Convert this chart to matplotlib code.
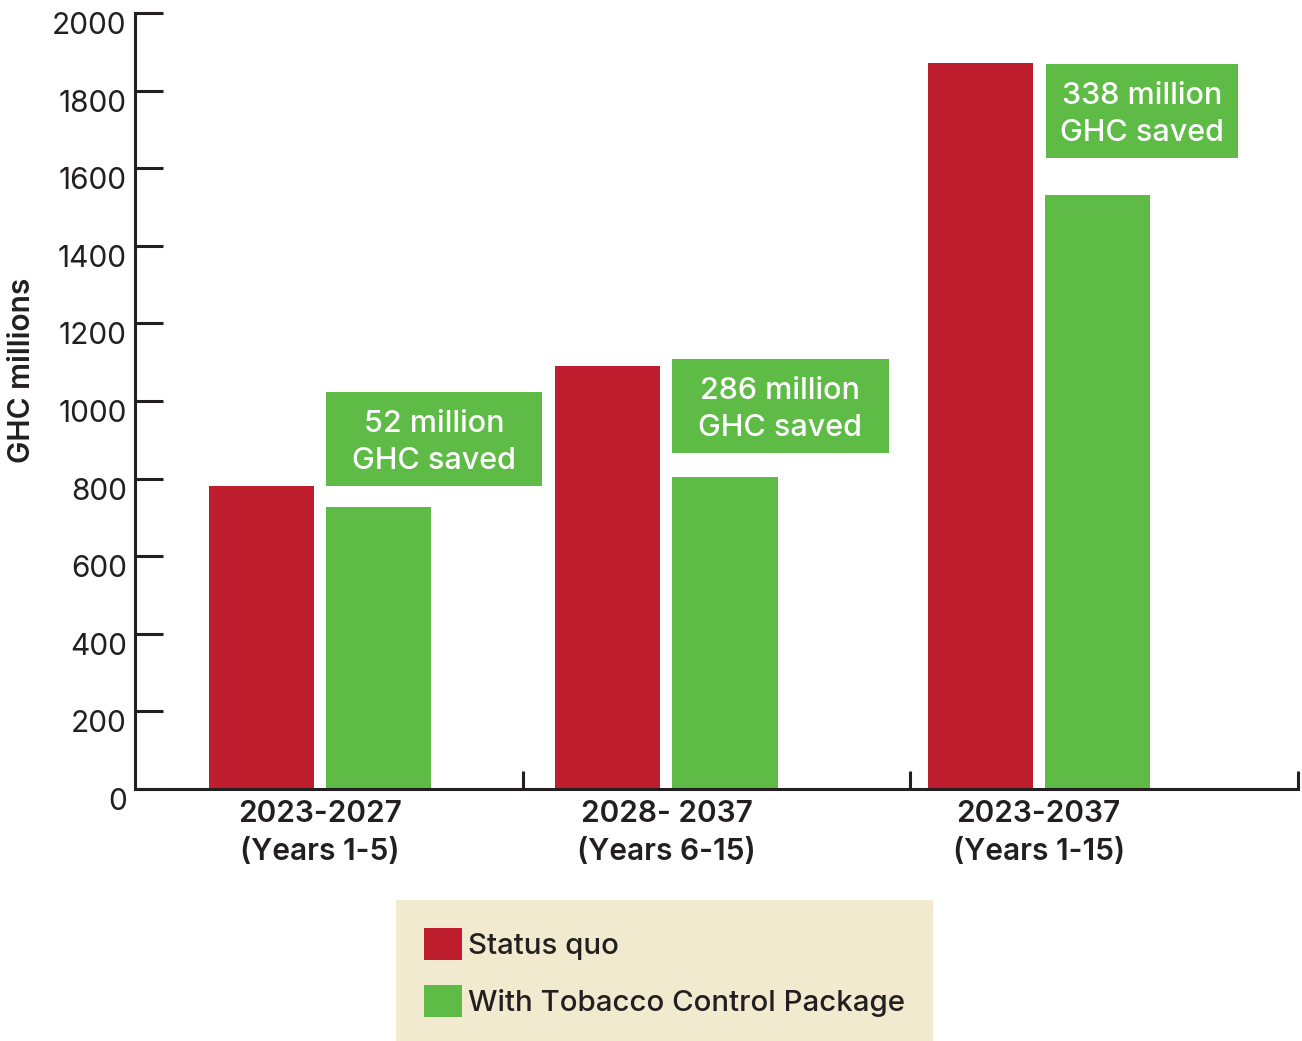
import matplotlib
matplotlib.use("Agg")
import matplotlib.pyplot as plt
import matplotlib.transforms as mtransforms
from matplotlib.patches import Rectangle

plt.rcParams["font.family"] = ["Inter", "DejaVu Sans"]

# Data
periods = ["2023-2027\n(Years 1-5)", "2028- 2037\n(Years 6-15)", "2023-2037\n(Years 1-15)"]
status_quo = [780, 1090, 1870]
with_package = [728, 804, 1532]
savings_labels = ["52 million\nGHC saved", "286 million\nGHC saved", "338 million\nGHC saved"]
series_names = ["Status quo", "With Tobacco Control Package"]
y_ticks = [0, 200, 400, 600, 800, 1000, 1200, 1400, 1600, 1800, 2000]

# Layout
RED = "#BE1E2D"
GREEN = "#5DBB46"
INK = "#231F20"
group_centers = [0.477, 1.371, 2.331]
bar_offset = 0.151
bar_width = 0.271
# savings boxes: (x0, x1, y0, y1) in data units
box_extents = [(0.493, 1.050, 781, 1023),
               (1.385, 1.945, 866, 1108),
               (2.350, 2.845, 1626, 1869)]

fig = plt.figure(figsize=(13.02, 10.41), dpi=100)
ax = fig.add_axes([135 / 1302, 1 - 789 / 1041, (1298 - 135) / 1302, (789 - 13) / 1041])

red_x = [c - bar_offset for c in group_centers]
green_x = [c + bar_offset for c in group_centers]
b1 = ax.bar(red_x, status_quo, width=bar_width, color=RED, label=series_names[0], zorder=2)
b2 = ax.bar(green_x, with_package, width=bar_width, color=GREEN, label=series_names[1], zorder=2)

for (x0, x1, y0, y1), txt in zip(box_extents, savings_labels):
    ax.add_patch(Rectangle((x0, y0), x1 - x0, y1 - y0, facecolor=GREEN,
                           edgecolor="none", zorder=3, clip_on=False))
    ax.text((x0 + x1) / 2, (y0 + y1) / 2 - 9, txt, ha="center", va="center",
            color="white", fontsize=22, fontweight="medium", linespacing=1.45,
            zorder=4)

ax.set_xlim(0, 3)
ax.set_ylim(0, 2000)

for side in ["top", "right"]:
    ax.spines[side].set_visible(False)
for side in ["left", "bottom"]:
    ax.spines[side].set_linewidth(2.2)
    ax.spines[side].set_color(INK)
    ax.spines[side].set_capstyle("projecting")

ax.set_yticks(y_ticks)
ax.set_yticklabels([str(v) for v in y_ticks])
ax.tick_params(axis="y", direction="in", length=20, width=2.2, color=INK,
               labelsize=21.5, labelcolor=INK, pad=6)
offset = mtransforms.ScaledTranslation(0, -0.10, fig.dpi_scale_trans)
for lab in ax.get_yticklabels():
    lab.set_transform(lab.get_transform() + offset)

ax.set_xticks([1, 2, 3])
ax.set_xticklabels([])
ax.tick_params(axis="x", which="major", direction="in", length=13, width=2.2, color=INK)
ax.set_xticks(group_centers, minor=True)
ax.set_xticklabels(periods, minor=True, fontsize=21.5, fontweight="semibold",
                   color=INK, linespacing=1.45)
ax.tick_params(axis="x", which="minor", length=0, pad=8)

fig.text(22 / 1302, 1 - 370 / 1041, "GHC millions", rotation=90, ha="center",
         va="center", fontsize=21.5, fontweight="semibold", color=INK)

leg = ax.legend(handles=[b1, b2], loc="upper left",
                bbox_to_anchor=(396 / 1302, 1 - 900 / 1041), bbox_transform=fig.transFigure,
                fontsize=21.2, frameon=True, fancybox=False, framealpha=1,
                facecolor="#F1EACE", edgecolor="none", handlelength=1.3,
                handleheight=1.3, handletextpad=0.2, labelspacing=0.86,
                borderpad=0.95, borderaxespad=0)
for t in leg.get_texts():
    t.set_fontweight("medium")
    t.set_color(INK)

fig.savefig("out.png", dpi=100)
